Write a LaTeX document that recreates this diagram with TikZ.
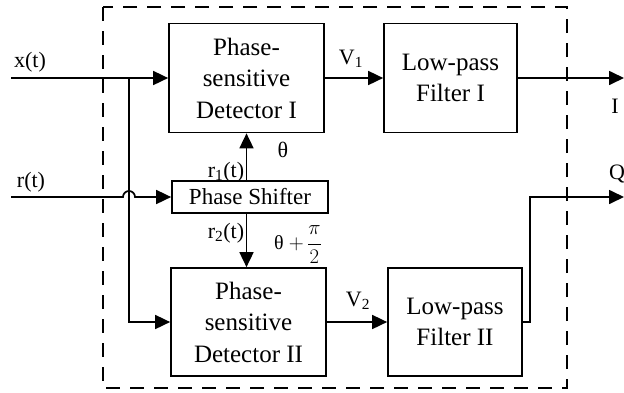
\documentclass[tikz,border=0pt]{standalone}
\usepackage{fontspec}
\setmainfont{Liberation Serif}
\usetikzlibrary{positioning,arrows.meta}

\begin{document}
\begin{tikzpicture}[
  x=1pt,
  y=-1pt,
  >={Triangle[length=15pt,width=14pt]},
  line width=1.7pt,
  node distance=204pt,
  on grid,
  block/.style={
    draw,
    rectangle,
    inner sep=0pt,
    align=center,
    minimum height=109pt,
    font=\fontsize{25}{31.5}\selectfont
  },
  lbl/.style={inner sep=0pt, anchor=base, font=\fontsize{22}{26}\selectfont},
  frame/.style={draw, line width=1.7pt, dash pattern=on 14pt off 10pt}
]
\useasboundingbox (0,0) rectangle (624,392);
\draw[frame] (103,7) rectangle (567,388);

\node[block, minimum width=155pt] (psdI) at (246.5,78) {Phase-\\sensitive\\Detector I};
\node[block, minimum width=133pt] (lpfI) [right=of psdI] {Low-pass\\Filter I};
\node[block, minimum width=156pt, minimum height=32pt,
  font=\fontsize{23}{27}\selectfont] (ps) at (250,197) {Phase Shifter};
\node[block, minimum width=155pt, minimum height=108pt] (psdII) at (248.5,322) {Phase-\\sensitive\\Detector II};
\node[block, minimum width=134pt, minimum height=108pt] (lpfII) at (455,322) {Low-pass\\Filter II};

\coordinate (xin) at (11,78);
\coordinate (xsplit) at (129,78);
\coordinate (rin) at (11,197);
\coordinate (iout) at (624,78);
\coordinate (qout) at (624,197);

% inputs
\draw[->] (xin) -- (psdI.west);
\draw[->] (xsplit) |- (psdII.west);
\draw[->] (rin) -- (123,197) arc[start angle=180, end angle=0, radius=6pt] -- (ps.west);

% phase shifter outputs
\draw[->] (psdI.south |- ps.north) -- (psdI.south);
\draw[->] (psdI.south |- ps.south) -- (psdI.south |- psdII.north);

% detector to filter to output
\draw[->] (psdI.east) -- (lpfI.west);
\draw[->] (psdII.east) -- (lpfII.west);
\draw[->] (lpfI.east) -- (iout);
\draw[->] (lpfII.east) -- ++(7,0) |- (qout);

% labels
\node[lbl] (xlbl) at (30,67) {x(t)};
\node[lbl] (rlbl) at (31,187) {r(t)};
\node[lbl] (r1lbl) at (226,177) {r\textsubscript{1}(t)};
\node[lbl] (thlbl) at (283,157) {θ};
\node[lbl] (r2lbl) at (226,238) {r\textsubscript{2}(t)};
\node[lbl, font=\fontsize{20}{24}\selectfont] (th2lbl) at (298,249) {θ $\displaystyle+\,\frac{\pi}{2}$};
\node[lbl] (v1lbl) at (351,64) {V\textsubscript{1}};
\node[lbl] (v2lbl) at (358,306) {V\textsubscript{2}};
\node[lbl] (ilbl) at (615,113) {I};
\node[lbl] (qlbl) at (617,179) {Q};
\end{tikzpicture}
\end{document}
